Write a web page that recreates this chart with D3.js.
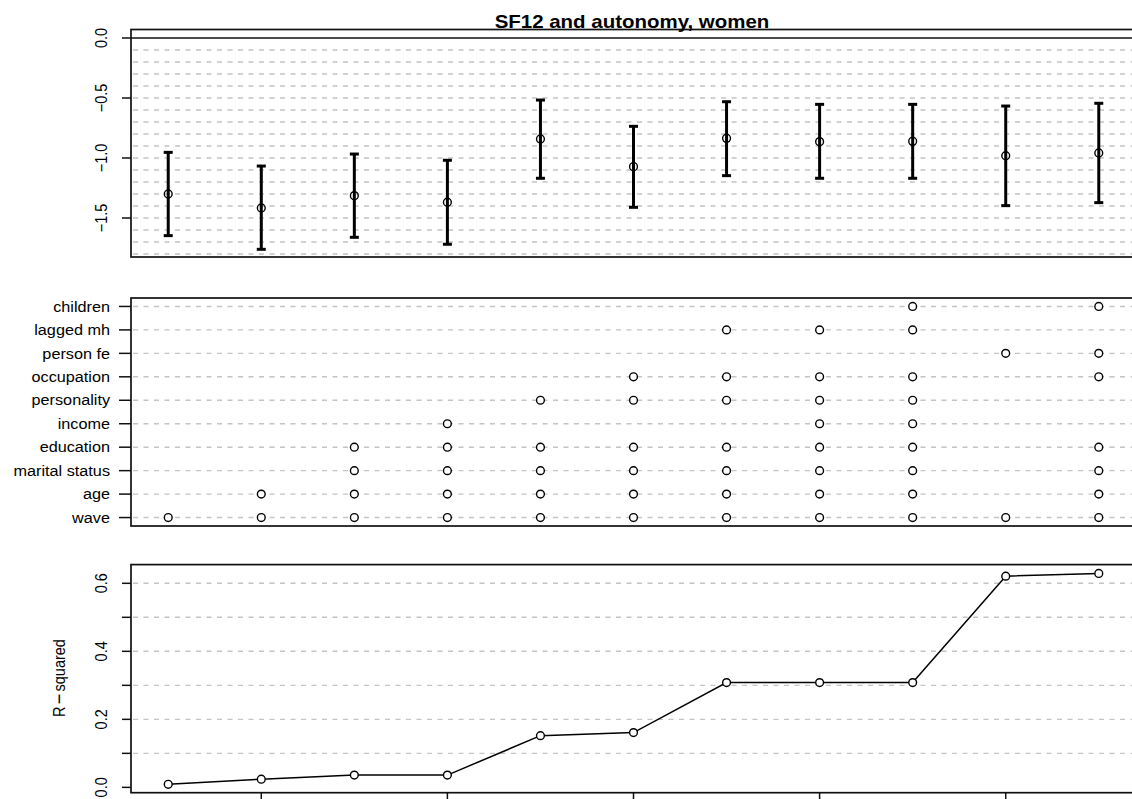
<!DOCTYPE html>
<html>
<head>
<meta charset="utf-8">
<script src="https://cdn.jsdelivr.net/npm/d3@7"></script>
<style>
  html, body { margin: 0; padding: 0; background: #fff; }
  svg { display: block; }
  text { font-family: "Liberation Sans", Arial, Helvetica, sans-serif; fill: #000; }
</style>
</head>
<body>
<svg id="chart" width="1132" height="799"></svg>
<script>
// ---------- DATA ----------
const title = "SF12 and autonomy, women";
const models = [1, 2, 3, 4, 5, 6, 7, 8, 9, 10, 11];
const estimate = [-1.30, -1.417, -1.314, -1.369, -0.842, -1.072, -0.836, -0.864, -0.861, -0.981, -0.958];
const ciLower  = [-1.647, -1.761, -1.661, -1.719, -1.169, -1.411, -1.147, -1.169, -1.169, -1.397, -1.372];
const ciUpper  = [-0.953, -1.067, -0.967, -1.019, -0.517, -0.736, -0.531, -0.553, -0.553, -0.567, -0.544];
const controls = ["wave", "age", "marital status", "education", "income",
                  "personality", "occupation", "person fe", "lagged mh", "children"];
// which models include each control (model numbers)
const inclusion = {
  "wave":           [1, 2, 3, 4, 5, 6, 7, 8, 9, 10, 11],
  "age":            [2, 3, 4, 5, 6, 7, 8, 9, 11],
  "marital status": [3, 4, 5, 6, 7, 8, 9, 11],
  "education":      [3, 4, 5, 6, 7, 8, 9, 11],
  "income":         [4, 8, 9],
  "personality":    [5, 6, 7, 8, 9],
  "occupation":     [6, 7, 8, 9, 11],
  "person fe":      [10, 11],
  "lagged mh":      [7, 8, 9],
  "children":       [9, 11]
};
const rSquared = [0.009, 0.024, 0.036, 0.036, 0.152, 0.161, 0.308, 0.308, 0.308, 0.621, 0.629];
const topTicks = [0, -0.5, -1.0, -1.5];
const topGrid = d3.range(1, 19).map(k => -k / 10);
const bottomTicks = [0, 0.1, 0.2, 0.3, 0.4, 0.5, 0.6];
const bottomLabels = [0, 0.2, 0.4, 0.6];
const bottomGrid = [0.1, 0.2, 0.3, 0.4, 0.5, 0.6];
const bottomXTicks = [2, 4, 6, 8, 10];
const yLabel = "R-squared";

// ---------- LAYOUT ----------
const svg = d3.select("#chart");
const FONT = 14.5;
const SX = 1.12;          // horizontal stretch of the reference rendering
const TICK = 9;
const GRID_COLOR = "#c4c4c4";
const GRID_DASH = "5,5.5";

const x = d3.scaleLinear().domain([0.6, 11.4]).range([131, 1136]);
const yTop = d3.scaleLinear().domain([-1.825, 0.0708]).range([257, 29.5]);
const yMid = d3.scaleLinear().domain([0.64, 10.36]).range([526, 298]);
const yBot = d3.scaleLinear().domain([-0.0157, 0.655]).range([792.7, 564.6]);

// write a label, drawing "-" as a wide R-style minus sign
function writeLabel(sel, str) {
  const parts = String(str).split("-");
  parts.forEach((p, i) => {
    if (i > 0) {
      sel.append("tspan").attr("font-size", FONT * 1.25).attr("dx", 2.2)
        .attr("baseline-shift", -1.1).text("\u2212");
      sel.append("tspan").attr("dx", 2.2).text(p);
    } else if (p.length) {
      sel.append("tspan").text(p);
    }
  });
}

function box(yScale) {
  const [y0, y1] = yScale.range();
  svg.append("rect")
    .attr("x", x.range()[0]).attr("y", y1)
    .attr("width", x.range()[1] - x.range()[0]).attr("height", y0 - y1)
    .attr("fill", "none").attr("stroke", "#111").attr("stroke-width", 1.7);
}
function hgrid(g, yScale, vals) {
  g.selectAll("line.grid").data(vals).join("line")
    .attr("class", "grid")
    .attr("x1", x.range()[0] + 2).attr("x2", x.range()[1])
    .attr("y1", d => yScale(d)).attr("y2", d => yScale(d))
    .attr("stroke", GRID_COLOR).attr("stroke-width", 1.4)
    .attr("stroke-dasharray", GRID_DASH);
}
function yAxisRotated(yScale, ticks, labels, fmt) {
  const g = svg.append("g");
  const x0 = x.range()[0];
  g.selectAll("line.tk").data(ticks).join("line")
    .attr("class", "tk")
    .attr("x1", x0 - TICK).attr("x2", x0)
    .attr("y1", d => yScale(d)).attr("y2", d => yScale(d))
    .attr("stroke", "#111").attr("stroke-width", 1.5);
  g.selectAll("text").data(labels).join("text")
    .attr("transform", d => `translate(107,${yScale(d)}) scale(${SX},1) rotate(-90)`)
    .attr("text-anchor", "middle")
    .attr("font-size", FONT)
    .each(function (d) { writeLabel(d3.select(this), fmt(d)); });
}

// ---------- TOP PANEL ----------
const gTop = svg.append("g");
hgrid(gTop, yTop, topGrid);
gTop.append("line")
  .attr("x1", x.range()[0]).attr("x2", x.range()[1])
  .attr("y1", yTop(0)).attr("y2", yTop(0))
  .attr("stroke", "#111").attr("stroke-width", 1.7);
box(yTop);
yAxisRotated(yTop, topTicks, topTicks, d => d3.format(".1f")(d));

const bars = gTop.selectAll("g.bar").data(models).join("g").attr("class", "bar");
bars.append("line")
  .attr("x1", d => x(d)).attr("x2", d => x(d))
  .attr("y1", (d, i) => yTop(ciUpper[i])).attr("y2", (d, i) => yTop(ciLower[i]))
  .attr("stroke", "#000").attr("stroke-width", 3);
bars.append("line")
  .attr("x1", d => x(d) - 4.5).attr("x2", d => x(d) + 4.5)
  .attr("y1", (d, i) => yTop(ciUpper[i])).attr("y2", (d, i) => yTop(ciUpper[i]))
  .attr("stroke", "#000").attr("stroke-width", 3);
bars.append("line")
  .attr("x1", d => x(d) - 4.5).attr("x2", d => x(d) + 4.5)
  .attr("y1", (d, i) => yTop(ciLower[i])).attr("y2", (d, i) => yTop(ciLower[i]))
  .attr("stroke", "#000").attr("stroke-width", 3);
bars.append("ellipse")
  .attr("cx", d => x(d)).attr("cy", (d, i) => yTop(estimate[i]))
  .attr("rx", 3.9).attr("ry", 4).attr("fill", "none").attr("stroke", "#000").attr("stroke-width", 1.4);

svg.append("text")
  .attr("transform", `translate(632,28) scale(1.1,1)`)
  .attr("text-anchor", "middle")
  .attr("font-size", 18.6).attr("font-weight", "bold")
  .text(title);

// ---------- MIDDLE PANEL ----------
const gMid = svg.append("g");
const rowIndex = c => controls.indexOf(c) + 1;
hgrid(gMid, yMid, controls.map(rowIndex));
box(yMid);
gMid.selectAll("line.tk").data(controls).join("line")
  .attr("class", "tk")
  .attr("x1", x.range()[0] - TICK - 3).attr("x2", x.range()[0])
  .attr("y1", d => yMid(rowIndex(d))).attr("y2", d => yMid(rowIndex(d)))
  .attr("stroke", "#111").attr("stroke-width", 1.5);
gMid.selectAll("text.lab").data(controls).join("text")
  .attr("class", "lab")
  .attr("transform", d => `translate(110,${yMid(rowIndex(d))}) scale(${SX},1)`)
  .attr("dy", "0.36em")
  .attr("text-anchor", "end")
  .attr("font-size", FONT)
  .text(d => d);
const dots = controls.flatMap(c => inclusion[c].map(m => ({ c, m })));
gMid.selectAll("circle").data(dots).join("circle")
  .attr("cx", d => x(d.m)).attr("cy", d => yMid(rowIndex(d.c)))
  .attr("r", 3.9).attr("fill", "#fff").attr("stroke", "#000").attr("stroke-width", 1.4);

// ---------- BOTTOM PANEL ----------
const gBot = svg.append("g");
hgrid(gBot, yBot, bottomGrid);
box(yBot);
yAxisRotated(yBot, bottomTicks, bottomLabels, d => d3.format(".1f")(d));
gBot.selectAll("line.xt").data(bottomXTicks).join("line")
  .attr("class", "xt")
  .attr("x1", d => x(d)).attr("x2", d => x(d))
  .attr("y1", yBot.range()[0]).attr("y2", yBot.range()[0] + TICK)
  .attr("stroke", "#111").attr("stroke-width", 1.5);
const line = d3.line().x((d, i) => x(models[i])).y(d => yBot(d));
gBot.append("path").datum(rSquared)
  .attr("d", line).attr("fill", "none").attr("stroke", "#000").attr("stroke-width", 1.5);
gBot.selectAll("circle").data(rSquared).join("circle")
  .attr("cx", (d, i) => x(models[i])).attr("cy", d => yBot(d))
  .attr("r", 3.9).attr("fill", "#fff").attr("stroke", "#000").attr("stroke-width", 1.4);
const yl = svg.append("text")
  .attr("transform", `translate(65,678) scale(${SX},1) rotate(-90)`)
  .attr("text-anchor", "middle")
  .attr("font-size", FONT);
writeLabel(yl, yLabel);
</script>
</body>
</html>
